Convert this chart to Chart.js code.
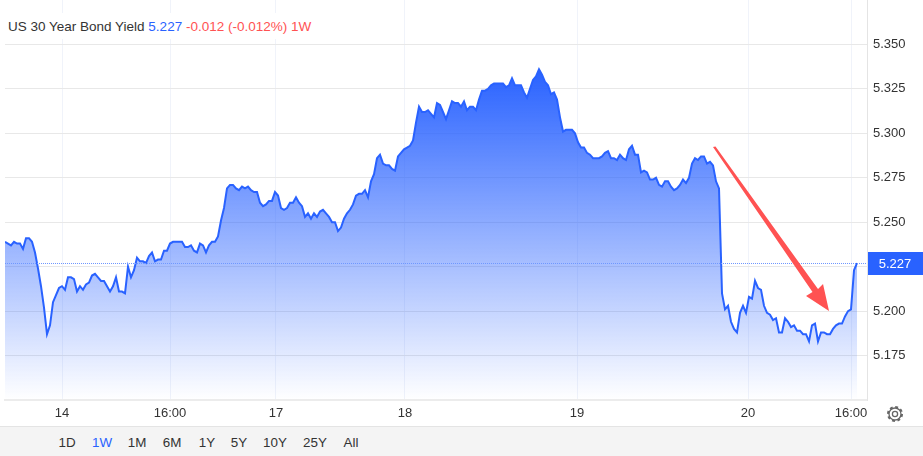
<!DOCTYPE html>
<html>
<head>
<meta charset="utf-8">
<title>US 30 Year Bond Yield</title>
<script src="https://cdn.jsdelivr.net/npm/chart.js"></script>
<style>
    html, body { margin: 0; padding: 0; background: #fff; overflow: hidden; }
    body { width: 923px; height: 456px; position: relative; font-family: "Liberation Sans", Arial, sans-serif; }
    #yieldChart { position: absolute; left: 0; top: 0; }
    #heading { position: absolute; left: 5px; top: 13px; height: 26px; line-height: 28px; width: 313px; padding-left: 3px; box-sizing: border-box; background: #fff; font-size: 13.5px; color: #333; white-space: nowrap; }
    #heading .last { color: #2962ff; }
    #heading .change { color: #ff5252; }
    #ranges { position: absolute; left: 0; top: 426px; width: 923px; height: 30px; background: #f4f4f4; border-top: 1px solid #e4e4e4; box-sizing: border-box; }
    #ranges span { position: absolute; top: 7px; font-size: 13.4px; line-height: 18px; color: #333; transform: translateX(-50%); }
    #ranges span.active { color: #2962ff; }
    #gear { position: absolute; left: 886px; top: 405px; }
</style>
</head>
<body>
<canvas id="yieldChart" width="923" height="426"></canvas>
<div id="heading">US 30 Year Bond Yield <span class="last">5.227</span> <span class="change">-0.012 (-0.012%) 1W</span></div>
<svg id="gear" width="18" height="18" viewBox="0 0 18 18">
    <circle cx="9" cy="9" r="6" fill="none" stroke="#666" stroke-width="1.3"/>
    <circle cx="9" cy="9" r="7" fill="none" stroke="#666" stroke-width="2" stroke-dasharray="2.9 2.6"/>
    <circle cx="9" cy="9" r="2.6" fill="none" stroke="#666" stroke-width="1.3"/>
</svg>
<div id="ranges"></div>
<script>
    // Yield readings, one every sample slot
    const yieldsMon = [
        5.239, 5.238, 5.237, 5.239, 5.238, 5.238, 5.235, 5.241, 5.241, 5.239, 5.233, 5.224,
        5.214, 5.202, 5.187, 5.192, 5.205, 5.209, 5.213, 5.214, 5.212, 5.219, 5.219, 5.218,
        5.211, 5.214, 5.212, 5.215, 5.216, 5.220, 5.221, 5.219, 5.217, 5.217, 5.214, 5.211,
        5.214, 5.219, 5.211, 5.211, 5.210, 5.225, 5.219, 5.223, 5.230, 5.228, 5.228, 5.227,
        5.231, 5.233, 5.228, 5.229, 5.229, 5.234, 5.234, 5.238, 5.239, 5.239, 5.239, 5.239,
        5.236, 5.236, 5.237, 5.234, 5.233, 5.238, 5.237, 5.233, 5.237, 5.239, 5.239, 5.242,
        5.251, 5.258, 5.269, 5.271, 5.271, 5.269, 5.268, 5.270, 5.269, 5.270, 5.268, 5.267,
        5.267, 5.261, 5.259, 5.260, 5.262, 5.262
    ];
    const yieldsTue = [
        5.267, 5.265, 5.258, 5.257, 5.258, 5.261, 5.261, 5.264, 5.261, 5.259, 5.253, 5.255,
        5.252, 5.255, 5.253, 5.256, 5.257, 5.255, 5.253, 5.250, 5.250, 5.245, 5.247, 5.252,
        5.255, 5.257, 5.260, 5.265, 5.266, 5.266, 5.268, 5.264, 5.273, 5.277, 5.286, 5.288,
        5.283, 5.282, 5.282, 5.280, 5.279, 5.287, 5.289, 5.291
    ];
    const yieldsWed = [
        5.292, 5.293, 5.296, 5.306, 5.315, 5.312, 5.312, 5.313, 5.311, 5.309, 5.317, 5.316,
        5.312, 5.308, 5.313, 5.318, 5.317, 5.317, 5.315, 5.318, 5.313, 5.315, 5.315, 5.313,
        5.319, 5.324, 5.324, 5.325, 5.327, 5.328, 5.328, 5.328, 5.328, 5.326, 5.327, 5.331,
        5.327, 5.327, 5.327, 5.323, 5.320, 5.325, 5.330, 5.332, 5.336, 5.333, 5.329, 5.327,
        5.322, 5.323, 5.319, 5.309, 5.301, 5.302, 5.302, 5.302, 5.300
    ];
    const yieldsThu = [
        5.295, 5.292, 5.292, 5.289, 5.288, 5.286, 5.286, 5.286, 5.287, 5.289, 5.290, 5.286,
        5.286, 5.285, 5.288, 5.286, 5.285, 5.291, 5.293, 5.288, 5.288, 5.278, 5.279, 5.278,
        5.274, 5.274, 5.275, 5.271, 5.270, 5.273, 5.273, 5.270, 5.268, 5.269, 5.271, 5.274,
        5.272, 5.275, 5.283, 5.286, 5.285, 5.287, 5.287, 5.283, 5.284, 5.282, 5.273, 5.269,
        5.210, 5.201, 5.203, 5.194, 5.190, 5.188, 5.199, 5.203, 5.199
    ];
    const yieldsFri = [
        5.208, 5.207, 5.217, 5.213, 5.212, 5.203, 5.199, 5.198, 5.195, 5.196, 5.188, 5.188,
        5.196, 5.194, 5.191, 5.192, 5.189, 5.189, 5.187, 5.187, 5.183, 5.192, 5.193, 5.183,
        5.188, 5.188, 5.187, 5.187, 5.190, 5.192, 5.193, 5.193, 5.197, 5.200, 5.201, 5.223,
        5.227
    ];
    const yields = [...yieldsMon, ...yieldsTue, ...yieldsWed, ...yieldsThu, ...yieldsFri];

    const lastYield = 5.227;
    const xTickSlots = [19, 55, 90.33, 133.33, 190.67, 247.67, 282];
    const xTickLabels = ['14', '16:00', '17', '18', '19', '20', '16:00'];
    const yTickValues = [5.175, 5.2, 5.225, 5.25, 5.275, 5.3, 5.325, 5.35];
    const rangeLabels = ['1D', '1W', '1M', '6M', '1Y', '5Y', '10Y', '25Y', 'All'];
    const rangeCentres = [67, 102, 137, 172, 207, 239, 275, 315, 351];

    // Red annotation arrow, as [slot, yield]
    const arrowSlots = [236, 236.83, 271, 272.67, 274.67, 267, 269.17];
    const arrowYields = [5.2923, 5.2926, 5.2124, 5.2153, 5.2001, 5.2085, 5.2108];

    // Range buttons under the chart
    const ranges = document.getElementById('ranges');
    rangeLabels.forEach((label, i) => {
        const btn = document.createElement('span');
        btn.textContent = label;
        btn.style.left = rangeCentres[i] + 'px';
        if (label === '1W') btn.className = 'active';
        ranges.appendChild(btn);
    });

    // Dotted last-price line, price tag and the arrow
    const overlayPlugin = {
        id: 'overlay',
        afterDatasetsDraw(chart) {
            const { ctx, chartArea, scales } = chart;
            const y = Math.round(scales.y.getPixelForValue(lastYield)) + 0.5;

            ctx.save();
            ctx.strokeStyle = '#6f97ff';
            ctx.lineWidth = 1;
            ctx.setLineDash([1, 1]);
            ctx.beginPath();
            ctx.moveTo(chartArea.left, y);
            ctx.lineTo(chartArea.right, y);
            ctx.stroke();
            ctx.setLineDash([]);

            ctx.fillStyle = '#ff5252';
            ctx.beginPath();
            arrowSlots.forEach((slot, i) => {
                ctx.lineTo(scales.x.getPixelForValue(slot), scales.y.getPixelForValue(arrowYields[i]));
            });
            ctx.closePath();
            ctx.fill();

            ctx.fillStyle = '#2962ff';
            ctx.fillRect(chartArea.right + 1, y - 11.5, 55, 23);
            ctx.fillStyle = '#fff';
            ctx.font = '13px "Liberation Sans", Arial, sans-serif';
            ctx.textAlign = 'center';
            ctx.textBaseline = 'middle';
            ctx.fillText(lastYield.toFixed(3), chartArea.right + 28, y + 1);
            ctx.restore();
        }
    };

    // Fill fades from the line's top down to the x axis
    function areaGradient(context) {
        const { ctx, chartArea, scales } = context.chart;
        if (!chartArea) return 'rgba(41,98,255,0.5)';
        const g = ctx.createLinearGradient(0, scales.y.getPixelForValue(5.336), 0, chartArea.bottom);
        g.addColorStop(0, 'rgba(41,98,255,1)');
        g.addColorStop(1, 'rgba(41,98,255,0)');
        return g;
    }

    new Chart(document.getElementById('yieldChart'), {
        type: 'line',
        data: {
            datasets: [{
                data: yields.map((v, i) => ({ x: i, y: v })),
                borderColor: '#2962ff',
                borderWidth: 2,
                pointRadius: 0,
                tension: 0,
                fill: 'start',
                backgroundColor: areaGradient
            }]
        },
        options: {
            responsive: false,
            animation: false,
            events: [],
            layout: { padding: { left: 5 } },
            plugins: { legend: { display: false }, tooltip: { enabled: false } },
            scales: {
                x: {
                    type: 'linear',
                    min: 0,
                    max: 287.33,
                    afterBuildTicks(axis) { axis.ticks = xTickSlots.map(value => ({ value })); },
                    afterFit(axis) {
                        axis.height = 26;
                        axis.paddingLeft = 0;
                        axis.paddingRight = 0;
                    },
                    ticks: {
                        autoSkip: false,
                        maxRotation: 0,
                        padding: 6,
                        color: '#333',
                        font: { family: '"Liberation Sans", Arial, sans-serif', size: 13 },
                        callback(value) { return xTickLabels[xTickSlots.indexOf(value)]; }
                    },
                    grid: { color: '#f0f3fa', lineWidth: 1, drawTicks: false },
                    border: { color: '#ececec', width: 2 }
                },
                y: {
                    position: 'right',
                    min: 5.15,
                    max: 5.375,
                    afterBuildTicks(axis) { axis.ticks = yTickValues.map(value => ({ value })); },
                    afterFit(axis) {
                        axis.width = 56;
                        axis.paddingTop = 0;
                        axis.paddingBottom = 0;
                    },
                    ticks: {
                        autoSkip: false,
                        padding: 6,
                        color: '#333',
                        font: { family: '"Liberation Sans", Arial, sans-serif', size: 13 },
                        callback(value) { return value.toFixed(3); }
                    },
                    grid: { color: '#e8e8e8', lineWidth: 1, drawTicks: false },
                    border: { color: '#e4e4e4', width: 1 }
                }
            }
        },
        plugins: [overlayPlugin]
    });
</script>
</body>
</html>
